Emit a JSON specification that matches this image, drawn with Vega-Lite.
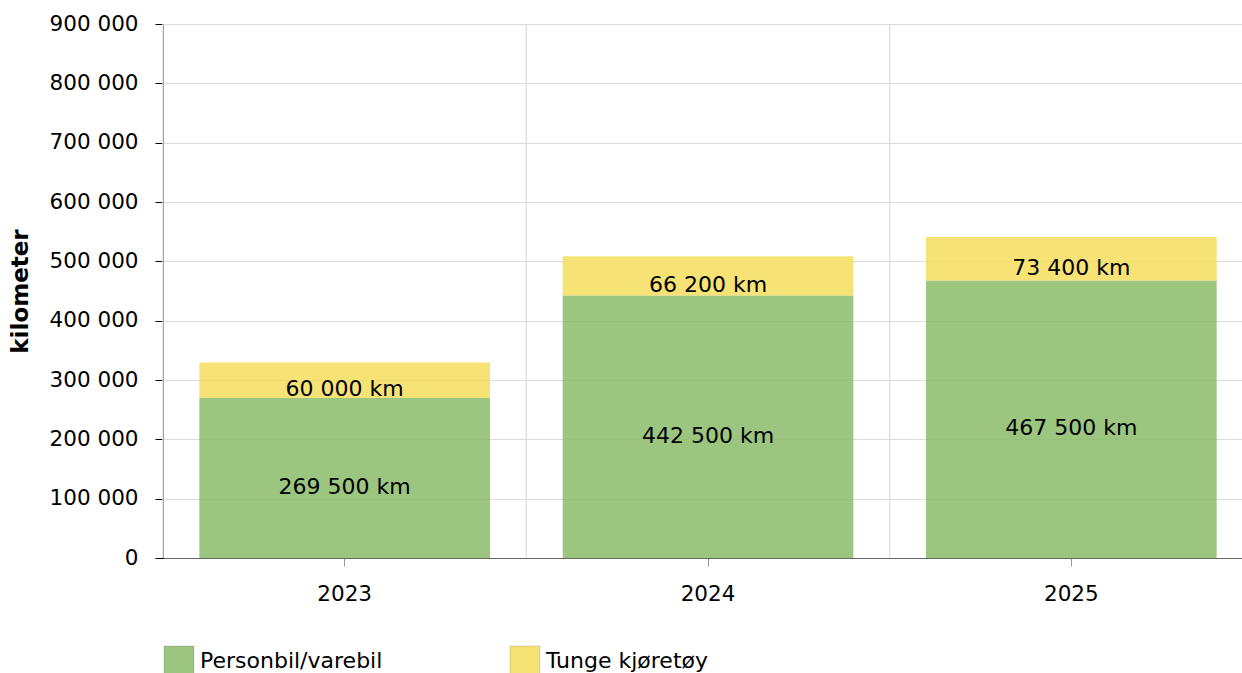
{
  "$schema": "https://vega.github.io/schema/vega-lite/v6.json",
  "width": 1079,
  "height": 534,
  "autosize": {"type": "none"},
  "padding": {"left": 163, "top": 24, "right": 0, "bottom": 115},
  "config": {
    "font": "DejaVu Sans",
    "view": {"stroke": null},
    "locale": {"number": {"decimal": ",", "thousands": " ", "grouping": [3], "currency": ["", " km"]}},
    "axis": {"labelFont": "DejaVu Sans", "labelFontSize": 21.5, "labelColor": "#000", "titleFont": "DejaVu Sans"},
    "axisX": {"title": null, "labelAngle": 0, "tickColor": "#999", "tickSize": 8, "domainColor": "#666", "labelPadding": 17, "grid": false},
    "axisY": {"titleFontSize": 23, "titleFontWeight": "bold", "titleColor": "#000", "titlePadding": 17,
              "domainColor": "#000", "tickColor": "#000", "tickSize": 8, "labelPadding": 17, "gridColor": "#dcdcdc"},
    "legend": {"labelFont": "DejaVu Sans", "labelFontSize": 22, "labelColor": "#000", "labelLimit": 400}
  },
  "data": {
    "values": [
      {"year": "2023", "type": "Personbil/varebil", "value": 269500},
      {"year": "2023", "type": "Tunge kjøretøy", "value": 60000},
      {"year": "2024", "type": "Personbil/varebil", "value": 442500},
      {"year": "2024", "type": "Tunge kjøretøy", "value": 66200},
      {"year": "2025", "type": "Personbil/varebil", "value": 467500},
      {"year": "2025", "type": "Tunge kjøretøy", "value": 73400}
    ]
  },
  "transform": [
    {"stack": "value", "groupby": ["year"], "sort": [{"field": "type", "order": "ascending"}], "as": ["v0", "v1"]},
    {"calculate": "(datum.v0 + datum.v1) / 2", "as": "mid"}
  ],
  "layer": [
    {
      "mark": {"type": "rule", "color": "#dcdcdc", "strokeWidth": 1},
      "encoding": {
        "x": {"field": "year", "type": "nominal", "bandPosition": -0.125,
              "scale": {"range": [0, 1090], "paddingInner": 0.2, "paddingOuter": 0.1}}
      }
    },
    {
      "mark": {"type": "bar", "opacity": 0.85},
      "encoding": {
        "x": {"field": "year", "type": "nominal",
              "scale": {"range": [0, 1090], "paddingInner": 0.2, "paddingOuter": 0.1}},
        "y": {"field": "v1", "type": "quantitative",
              "scale": {"domain": [0, 900000], "nice": false},
              "axis": {"title": "kilometer", "format": ",d", "values": [0, 100000, 200000, 300000, 400000, 500000, 600000, 700000, 800000, 900000]}},
        "y2": {"field": "v0"},
        "color": {"field": "type", "type": "nominal",
                  "scale": {"domain": ["Personbil/varebil", "Tunge kjøretøy"], "range": ["#8bbb6a", "#f4dd5d"]},
                  "legend": {"orient": "none", "legendX": 0, "legendY": 621, "direction": "horizontal", "title": null,
                             "symbolType": "square", "symbolSize": 900, "columnPadding": 124, "labelOffset": 5,
                             "symbolStrokeWidth": 1.5, "symbolStrokeColor": "rgba(0,0,0,0.1)"}}
      }
    },
    {
      "mark": {"type": "text", "fontSize": 22, "baseline": "middle", "dy": 9, "color": "#000", "font": "DejaVu Sans"},
      "encoding": {
        "x": {"field": "year", "type": "nominal"},
        "y": {"field": "mid", "type": "quantitative",
              "axis": {"title": "kilometer", "format": ",d", "values": [0, 100000, 200000, 300000, 400000, 500000, 600000, 700000, 800000, 900000]}},
        "text": {"field": "value", "type": "quantitative", "format": "$,"}
      }
    }
  ]
}
